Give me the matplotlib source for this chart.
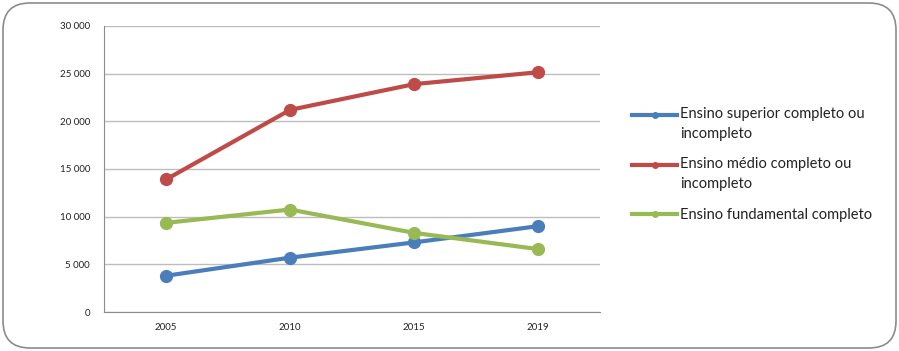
import matplotlib
matplotlib.use("Agg")
import matplotlib.pyplot as plt
from matplotlib.lines import Line2D
from matplotlib.patches import FancyBboxPatch
from matplotlib.ticker import FuncFormatter
from matplotlib.transforms import Affine2D
from matplotlib.legend_handler import HandlerLine2D

YEARS = ["2005", "2010", "2015", "2019"]
SUPERIOR = [3800, 5700, 7300, 9000]
MEDIO = [13900, 21200, 23900, 25150]
FUNDAMENTAL = [9350, 10750, 8300, 6600]

LABELS = [
    "Ensino superior completo ou\nincompleto",
    "Ensino médio completo ou\nincompleto",
    "Ensino fundamental completo",
]
COLORS = ["#4A7EBB", "#BE4B48", "#98B954"]

plt.rcParams["font.family"] = ["Lato", "DejaVu Sans"]


class TopAlignedHandler(HandlerLine2D):
    """Legend handle lifted up to sit level with the first line of a 2-line label."""

    def __init__(self, dy, **kw):
        super().__init__(**kw)
        self.dy = dy

    def create_artists(self, legend, orig_handle, xdescent, ydescent, width,
                       height, fontsize, trans):
        arts = super().create_artists(legend, orig_handle, xdescent, ydescent,
                                      width, height, fontsize, trans)
        for a in arts:
            a.set_transform(a.get_transform() + Affine2D().translate(0, self.dy))
        return arts


fig = plt.figure(figsize=(8.99, 3.51), dpi=100)
ax = fig.add_axes([104 / 899, 1 - 312 / 351, (600 - 104) / 899, (312 - 26) / 351])

# rounded frame round the whole chart
frame = FancyBboxPatch((3 / 899, 3 / 351), 893 / 899, 345 / 351,
                       boxstyle="round,pad=0,rounding_size=0.03",
                       transform=fig.transFigure, facecolor="none",
                       edgecolor="#8C8C8C", linewidth=1.2, mutation_aspect=899 / 351)
fig.patches.append(frame)

xs = range(len(YEARS))
for ys, c in zip([SUPERIOR, MEDIO, FUNDAMENTAL], COLORS):
    ax.plot(xs, ys, color=c, lw=3, marker="o", markersize=8.5, solid_capstyle="round")

ax.set_xlim(-0.5, len(YEARS) - 0.5)
ax.set_ylim(0, 30000)
ax.set_yticks(range(0, 30001, 5000))
ax.yaxis.set_major_formatter(FuncFormatter(lambda v, p: f"{int(v):,}".replace(",", " ")))
ax.set_xticks(list(xs))
ax.set_xticklabels(YEARS)
ax.tick_params(length=0, labelsize=7, colors="#222222", pad=8)
ax.tick_params(axis="y", pad=10)
ax.grid(axis="y", color="#BDBDBD", lw=1)
ax.set_axisbelow(True)
for s in ["top", "right"]:
    ax.spines[s].set_visible(False)
for s in ["left", "bottom"]:
    ax.spines[s].set_color("#8C8C8C")

handles = [Line2D([], [], color=c, lw=3, marker="o", markersize=4) for c in COLORS]
hmap = {h: TopAlignedHandler(9.5) for h, lab in zip(handles, LABELS) if "\n" in lab}
leg = fig.legend(handles, LABELS, loc="upper left", bbox_to_anchor=(619 / 899, 1 - 94 / 351),
                 frameon=False, fontsize=10.5, handlelength=3.1, handletextpad=0.2,
                 labelspacing=1.15, labelcolor="#222222", handler_map=hmap)
for t in leg.get_texts():
    t.set_linespacing(1.5)

fig.savefig("out.png", dpi=100)
